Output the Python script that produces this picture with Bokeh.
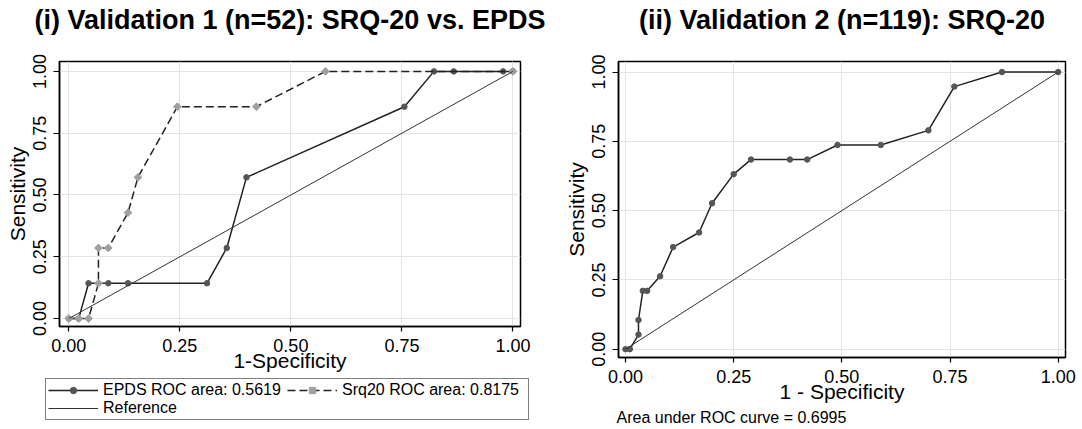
import math
from bokeh.plotting import figure
from bokeh.models import (Range1d, FixedTicker, PrintfTickFormatter, Legend,
                          LegendItem, Title)
from bokeh.layouts import row, column
from bokeh.embed import file_html
from bokeh.resources import INLINE

# ---- Validation 1 (n=52): 7 positives, 45 negatives ----
epds_fpr = [0.0, 0.0222, 0.0444, 0.0889, 0.1333, 0.3111, 0.3556, 0.4000, 0.7556, 0.8222, 0.8667, 0.9778, 1.0]
epds_tpr = [0.0, 0.0, 0.1429, 0.1429, 0.1429, 0.1429, 0.2857, 0.5714, 0.8571, 1.0, 1.0, 1.0, 1.0]
srq1_fpr = [0.0, 0.0222, 0.0444, 0.0667, 0.0667, 0.0889, 0.1333, 0.1556, 0.2444, 0.4222, 0.5778, 1.0]
srq1_tpr = [0.0, 0.0, 0.0, 0.1429, 0.2857, 0.2857, 0.4286, 0.5714, 0.8571, 0.8571, 1.0, 1.0]

# ---- Validation 2 (n=119): SRQ-20 ----
srq2_fpr = [0.0, 0.01, 0.03, 0.03, 0.04, 0.05, 0.08, 0.11, 0.17, 0.20, 0.25, 0.29, 0.38, 0.42, 0.49, 0.59, 0.70, 0.76, 0.87, 1.0]
srq2_tpr = [0.0, 0.0, 0.0526, 0.1053, 0.2105, 0.2105, 0.2632, 0.3684, 0.4211, 0.5263, 0.6316, 0.6842, 0.6842, 0.6842, 0.7368, 0.7368, 0.7895, 0.9474, 1.0, 1.0]

ref_xy = [0.0, 1.0]
ticks = [0.0, 0.25, 0.5, 0.75, 1.0]

title1 = "(i) Validation 1 (n=52): SRQ-20 vs. EPDS"
title2 = "(ii) Validation 2 (n=119): SRQ-20"
legend_labels = ["EPDS ROC area: 0.5619", "Srq20 ROC area: 0.8175", "Reference"]
auc_note = "Area under ROC curve = 0.6995"

FONT = "Liberation Sans"
LINE_C = "#222222"
EPDS_C = "#555555"
SRQ_C = "#a0a0a0"
REF_C = "#333333"


def base_fig(width, height, xr, yr, title, xlabel, borders):
    p = figure(width=width, height=height, output_backend="svg",
               toolbar_location=None, x_range=Range1d(*xr), y_range=Range1d(*yr),
               min_border_left=borders[0], min_border_right=borders[1],
               min_border_top=borders[2], min_border_bottom=borders[3])
    p.frame_align = False
    # spacer between frame and title (stacked closest to the frame)
    p.add_layout(Title(text=" ", text_font_size="1px", standoff=24), "above")
    p.title.text = title
    p.title.text_font = FONT
    p.title.text_font_size = "27px"
    p.title.text_font_style = "bold"
    p.title.align = "center"
    p.title.text_color = "black"
    p.title.standoff = 0
    p.outline_line_color = "black"
    p.outline_line_width = 1.5
    p.background_fill_color = "white"
    p.border_fill_color = "white"
    for g in (p.xgrid, p.ygrid):
        g.ticker = FixedTicker(ticks=ticks)
        g.grid_line_color = "#e4e4e4"
        g.grid_line_width = 1
    for ax in (p.xaxis, p.yaxis):
        ax.ticker = FixedTicker(ticks=ticks)
        ax.formatter = PrintfTickFormatter(format="%.2f")
        ax.minor_tick_line_color = None
        ax.major_tick_in = 0
        ax.major_tick_line_color = "black"
        ax.major_tick_line_width = 1.2
        ax.axis_line_color = "black"
        ax.axis_line_width = 1.5
        ax.major_label_text_font = FONT
        ax.major_label_text_font_size = "18px"
        ax.major_label_text_color = "black"
        ax.axis_label_text_font = FONT
        ax.axis_label_text_font_size = "21px"
        ax.axis_label_text_font_style = "normal"
        ax.axis_label_text_color = "black"
    p.xaxis.major_tick_out = 5
    p.yaxis.major_tick_out = 6
    p.xaxis.major_label_standoff = 7
    p.yaxis.major_label_standoff = 7
    p.xaxis.axis_label_standoff = -6
    p.yaxis.axis_label_standoff = 2
    p.yaxis.major_label_orientation = "parallel"
    p.yaxis.axis_label = "Sensitivity"
    p.xaxis.axis_label = xlabel
    return p


# ---- left panel ----
p1 = base_fig(548, 376, (-0.021, 1.017), (-0.032, 1.040), title1, "1-Specificity",
              (59, 28, 61, 50))
p1.line(epds_fpr, epds_tpr, line_color=LINE_C, line_width=1.5)
p1.scatter(epds_fpr, epds_tpr, marker="circle", size=5.5, fill_color=EPDS_C,
           line_color=EPDS_C)
p1.line(srq1_fpr, srq1_tpr, line_color=LINE_C, line_width=1.5, line_dash="8 4")
p1.scatter(srq1_fpr, srq1_tpr, marker="square", angle=math.pi / 4, size=5.5,
           fill_color=SRQ_C, line_color=SRQ_C)
p1.line(ref_xy, ref_xy, line_color=REF_C, line_width=1.0)

# ---- legend strip below the left panel (its series lie outside this strip's view) ----
pleg = figure(width=548, height=49, output_backend="svg", toolbar_location=None,
              x_axis_type=None, y_axis_type=None, x_range=Range1d(10, 11), y_range=Range1d(10, 11),
              min_border=0)
pleg.frame_align = False
pleg.outline_line_color = None
pleg.grid.visible = False
pleg.background_fill_color = "white"
pleg.border_fill_color = "white"
lg_epds_l = pleg.line(epds_fpr, epds_tpr, line_color=LINE_C, line_width=1.5)
lg_epds_m = pleg.scatter(epds_fpr, epds_tpr, marker="circle", size=5.5, fill_color=EPDS_C,
                         line_color=EPDS_C)
lg_srq_l = pleg.line(srq1_fpr, srq1_tpr, line_color=LINE_C, line_width=1.5, line_dash="8 4")
lg_srq_m = pleg.scatter(srq1_fpr, srq1_tpr, marker="square", angle=math.pi / 4, size=5.5,
                        fill_color=SRQ_C, line_color=SRQ_C)
lg_ref = pleg.line(ref_xy, ref_xy, line_color=REF_C, line_width=1.0)

legend = Legend(items=[
    LegendItem(label=legend_labels[0], renderers=[lg_epds_l, lg_epds_m]),
    LegendItem(label=legend_labels[1], renderers=[lg_srq_l, lg_srq_m]),
    LegendItem(label=legend_labels[2], renderers=[lg_ref]),
], orientation="horizontal", ncols=2)
legend.label_text_font = FONT
legend.label_text_font_size = "16px"
legend.label_text_color = "black"
legend.label_standoff = 5
legend.label_height = 16
legend.label_width = 184
legend.glyph_width = 50
legend.glyph_height = 16
legend.spacing = 0
legend.padding = 2
legend.margin = 0
legend.border_line_color = "black"
legend.border_line_width = 1.2
legend.background_fill_color = "white"
legend.background_fill_alpha = 1.0
legend.location = (45, 5)
pleg.add_layout(legend, "center")

# ---- right panel ----
p2 = base_fig(532, 428, (-0.0162, 1.0169), (-0.030, 1.038), title2, "1 - Specificity",
              (70, 15, 61, 71))
p2.line(srq2_fpr, srq2_tpr, line_color=LINE_C, line_width=1.5)
p2.scatter(srq2_fpr, srq2_tpr, marker="circle", size=5.5, fill_color=EPDS_C,
           line_color=EPDS_C)
p2.line(ref_xy, ref_xy, line_color=REF_C, line_width=1.0)
note = Title(text=auc_note, align="left", text_font=FONT, text_font_size="16px",
             text_font_style="normal", text_color="black", offset=-2, standoff=2)
p2.add_layout(note, "below")

layout = row(column(p1, pleg), p2)
open("out.html", "w").write(file_html(layout, INLINE))
